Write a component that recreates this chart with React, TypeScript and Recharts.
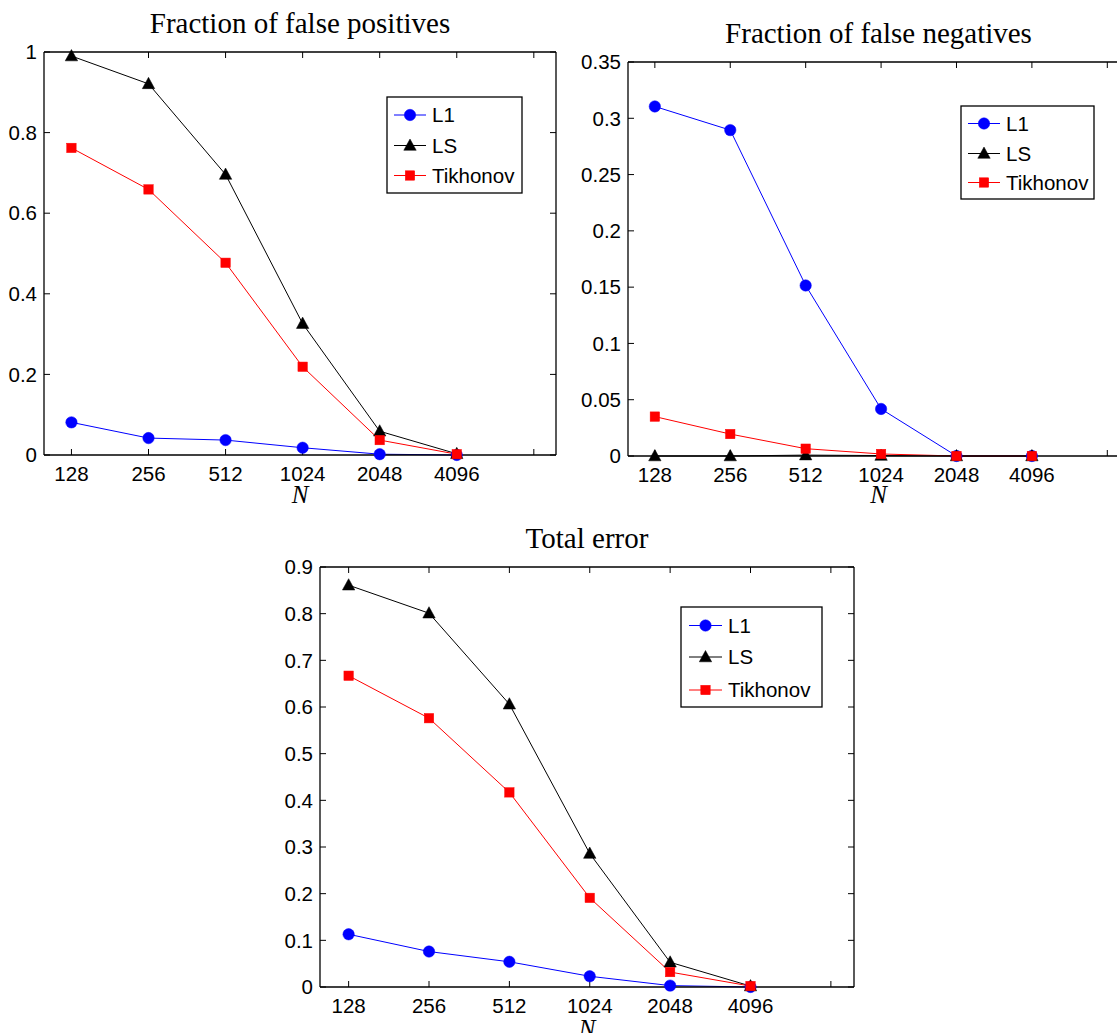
import React from 'react';
import { LineChart, Line, XAxis, YAxis } from 'recharts';

// ---- data ----
const N_VALUES = [128, 256, 512, 1024, 2048, 4096];
const X_TICKS = [128, 256, 512, 1024, 2048, 4096, 8192];
const SERIES_NAMES = ['L1', 'LS', 'Tikhonov'];
const SERIES_COLORS = ['#0000ff', '#000000', '#ff0000'];
const SERIES_MARKERS = ['circle', 'triangle', 'square'];

const fpL1 = [0.081, 0.042, 0.037, 0.018, 0.002, 0.0];
const fpLS = [0.99, 0.921, 0.696, 0.326, 0.059, 0.003];
const fpTik = [0.762, 0.659, 0.477, 0.219, 0.037, 0.002];

const fnL1 = [0.3105, 0.2895, 0.1515, 0.0418, 0.0, 0.0];
const fnLS = [0.0, 0.0, 0.0008, 0.0004, 0.0, 0.0];
const fnTik = [0.035, 0.0195, 0.0065, 0.0018, 0.0, 0.0];

const teL1 = [0.113, 0.076, 0.054, 0.023, 0.003, 0.0];
const teLS = [0.861, 0.801, 0.606, 0.286, 0.053, 0.002];
const teTik = [0.667, 0.576, 0.417, 0.191, 0.032, 0.002];

const FP_TICKS = [0, 0.2, 0.4, 0.6, 0.8, 1];
const FN_TICKS = [0, 0.05, 0.1, 0.15, 0.2, 0.25, 0.3, 0.35];
const TE_TICKS = [0, 0.1, 0.2, 0.3, 0.4, 0.5, 0.6, 0.7, 0.8, 0.9];

const TITLES = ['Fraction of false positives', 'Fraction of false negatives', 'Total error'];
const X_LABEL = 'N';

function buildRows(l1: number[], ls: number[], tik: number[]) {
  return N_VALUES.map((n, i) => ({ n, L1: l1[i], LS: ls[i], Tikhonov: tik[i] }));
}

const SANS = '"Liberation Sans", Arial, Helvetica, sans-serif';
const SERIF = '"Liberation Serif", "Times New Roman", serif';

function marker(kind: string, color: string, cx: number, cy: number, key?: any) {
  if (kind === 'circle') return <circle key={key} cx={cx} cy={cy} r={5.7} fill={color} stroke={color} strokeWidth={0.5} />;
  if (kind === 'triangle')
    return (
      <path key={key} d={`M${cx},${cy - 6.5} L${cx + 6.2},${cy + 4.8} L${cx - 6.2},${cy + 4.8} Z`} fill={color} stroke={color} strokeWidth={0.5} />
    );
  return <rect key={key} x={cx - 4.7} y={cy - 4.7} width={9.4} height={9.4} fill={color} stroke={color} strokeWidth={0.5} />;
}

const axisLine = { stroke: '#000', strokeWidth: 1.3 };
const tickLine = { stroke: '#000', strokeWidth: 1 };
const tickStyle = { fill: '#000', fontSize: 20.5, fontFamily: SANS };

function Panel(props: any) {
  const { left, top, width, height, margin, yWidth, yMax, yTicks, rows } = props;
  return (
    <div style={{ position: 'absolute', left, top }}>
      <LineChart width={width} height={height} data={rows} margin={margin}>
        <XAxis
          xAxisId="b"
          dataKey="n"
          type="number"
          scale="log"
          domain={[100, 10000]}
          allowDataOverflow
          ticks={X_TICKS}
          interval={0}
          orientation="bottom"
          height={40}
          tickSize={-6}
          tickMargin={17}
          tick={tickStyle}
          axisLine={axisLine}
          tickLine={tickLine}
          tickFormatter={(v: number) => (v === 8192 ? '' : String(v))}
        />
        <XAxis
          xAxisId="t"
          dataKey="n"
          type="number"
          scale="log"
          domain={[100, 10000]}
          allowDataOverflow
          ticks={X_TICKS}
          interval={0}
          orientation="top"
          height={1}
          tickSize={-6}
          tick={tickStyle}
          axisLine={axisLine}
          tickLine={tickLine}
          tickFormatter={() => ''}
        />
        <YAxis
          yAxisId="l"
          type="number"
          domain={[0, yMax]}
          ticks={yTicks}
          interval={0}
          width={yWidth}
          tickSize={-6}
          tickMargin={13}
          tick={tickStyle}
          axisLine={axisLine}
          tickLine={tickLine}
          tickFormatter={(v: number) => String(v)}
        />
        <YAxis
          yAxisId="r"
          orientation="right"
          type="number"
          domain={[0, yMax]}
          ticks={yTicks}
          interval={0}
          width={1}
          tickSize={-6}
          tick={tickStyle}
          axisLine={axisLine}
          tickLine={tickLine}
          tickFormatter={() => ''}
        />
        <Line
          xAxisId="t"
          yAxisId="r"
          dataKey="L1"
          stroke="none"
          dot={false}
          activeDot={false}
          legendType="none"
          isAnimationActive={false}
        />
        {SERIES_NAMES.map((name, i) => (
          <Line
            key={name}
            xAxisId="b"
            yAxisId="l"
            dataKey={name}
            stroke={SERIES_COLORS[i]}
            strokeWidth={1}
            isAnimationActive={false}
            activeDot={false}
            dot={(p: any) => marker(SERIES_MARKERS[i], SERIES_COLORS[i], p.cx, p.cy, `${name}-${p.index}`)}
          />
        ))}
      </LineChart>
    </div>
  );
}

function LegendBox(props: any) {
  const { x, y, w, h, rowY, lineX, lineLen } = props;
  return (
    <svg style={{ position: 'absolute', left: 0, top: 0 }} width={1117} height={1033}>
      <rect x={x} y={y} width={w} height={h} fill="#fff" stroke="#000" strokeWidth={1.3} />
      {SERIES_NAMES.map((name, i) => (
        <g key={name}>
          <line x1={lineX} x2={lineX + lineLen} y1={rowY[i]} y2={rowY[i]} stroke={SERIES_COLORS[i]} strokeWidth={1} />
          {marker(SERIES_MARKERS[i], SERIES_COLORS[i], lineX + lineLen / 2, rowY[i])}
          <text x={lineX + lineLen + 6} y={rowY[i] + 7} fontSize={20.5} fontFamily={SANS} fill="#000">
            {name}
          </text>
        </g>
      ))}
    </svg>
  );
}

export default function App() {
  return (
    <div style={{ position: 'fixed', left: 0, top: 0, width: 1117, height: 1033, overflow: 'hidden', background: '#fff' }}>
      <Panel
        left={0}
        top={0}
        width={600}
        height={510}
        margin={{ top: 51, right: 43, bottom: 15, left: 0 }}
        yWidth={44}
        yMax={1}
        yTicks={FP_TICKS}
        rows={buildRows(fpL1, fpLS, fpTik)}
      />
      <Panel
        left={570}
        top={0}
        width={600}
        height={510}
        margin={{ top: 61, right: 40, bottom: 14, left: 0 }}
        yWidth={58}
        yMax={0.35}
        yTicks={FN_TICKS}
        rows={buildRows(fnL1, fnLS, fnTik)}
      />
      <Panel
        left={270}
        top={520}
        width={620}
        height={513}
        margin={{ top: 46, right: 35, bottom: 6, left: 0 }}
        yWidth={50}
        yMax={0.9}
        yTicks={TE_TICKS}
        rows={buildRows(teL1, teLS, teTik)}
      />
      <LegendBox x={387} y={97} w={135} h={96} rowY={[115, 145.5, 175.5]} lineX={394} lineLen={32} />
      <LegendBox x={961} y={106} w={133} h={93} rowY={[123.5, 153.5, 182.5]} lineX={968} lineLen={32} />
      <LegendBox x={681} y={607} w={141} h={100} rowY={[625.5, 657, 690]} lineX={689} lineLen={33} />
      <svg style={{ position: 'absolute', left: 0, top: 0 }} width={1117} height={1033}>
        <text x={300} y={33.3} textAnchor="middle" fontSize={29} fontFamily={SERIF} fill="#000">{TITLES[0]}</text>
        <text x={878.5} y={43.3} textAnchor="middle" fontSize={29} fontFamily={SERIF} fill="#000">{TITLES[1]}</text>
        <text x={587} y={548.3} textAnchor="middle" fontSize={29} fontFamily={SERIF} fill="#000">{TITLES[2]}</text>
        <text x={300} y={502.5} textAnchor="middle" fontSize={25} fontStyle="italic" fontFamily={SERIF} fill="#000">{X_LABEL}</text>
        <text x={878.5} y={502.5} textAnchor="middle" fontSize={25} fontStyle="italic" fontFamily={SERIF} fill="#000">{X_LABEL}</text>
        <text x={587} y={1036.7} textAnchor="middle" fontSize={25} fontStyle="italic" fontFamily={SERIF} fill="#000">{X_LABEL}</text>
      </svg>
    </div>
  );
}
